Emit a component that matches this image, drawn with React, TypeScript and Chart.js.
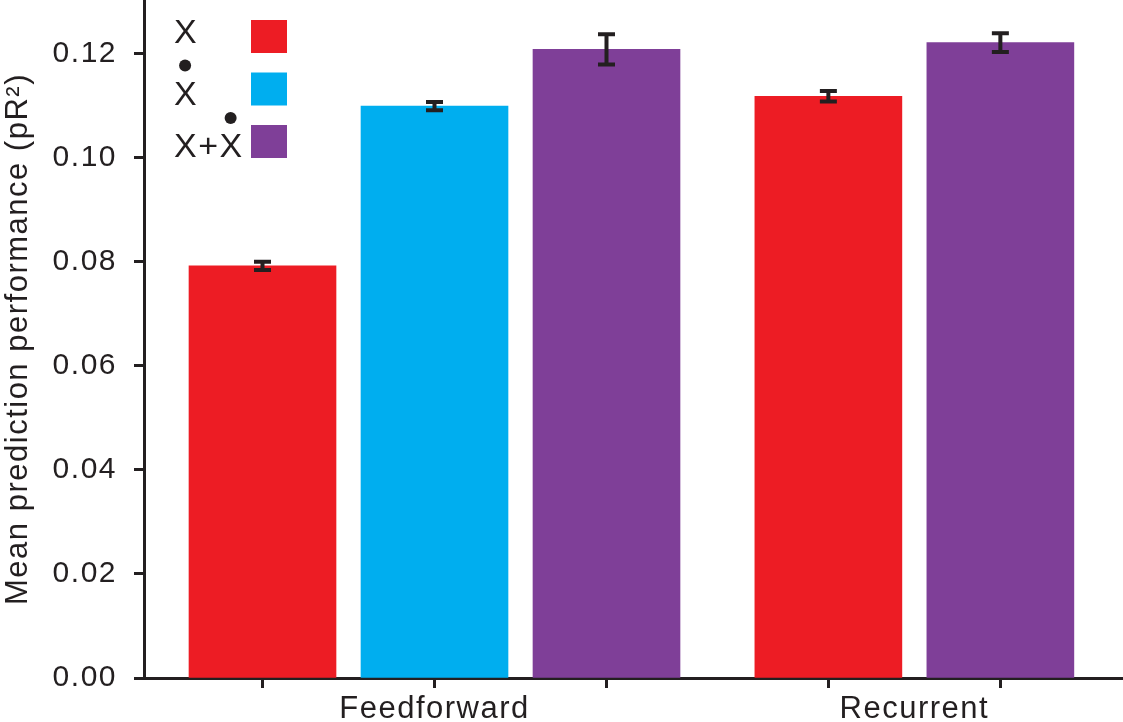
import { useEffect, useRef } from 'react';
import Chart from 'chart.js/auto';

// categories and series
const categories = ['Feedforward', 'Recurrent'];
const seriesLabels = ['X', 'Ẋ', 'X+Ẋ'];
const xValues = [0.0792, 0.1118];
const xDotValues = [0.1099, null];
const xPlusXDotValues = [0.1208, 0.1221];
const xErrors = [0.0008, 0.001];
const xDotErrors = [0.0008, null];
const xPlusXDotErrors = [0.0029, 0.0018];
const yTicks = [0, 0.02, 0.04, 0.06, 0.08, 0.1, 0.12];

const seriesValues = [xValues, xDotValues, xPlusXDotValues];
const seriesErrors = [xErrors, xDotErrors, xPlusXDotErrors];
const seriesColors = ['#ED1C24', '#00AEEF', '#7F3F98'];

const INK = '#231F20';
const FONT = "'Liberation Sans', Arial, sans-serif";
const GROUP_STEP = 3.29; // slots from first bar of one group to the next

// bars of a group sit side by side in slots, missing ones are skipped
const slots: (number | null)[][] = seriesValues.map(() => []);
const groupCenters: number[] = [];
categories.forEach((_, c) => {
  let k = 0;
  const used: number[] = [];
  seriesValues.forEach((vals, s) => {
    if (vals[c] == null) {
      slots[s][c] = null;
      return;
    }
    const slot = 1 + c * GROUP_STEP + k++;
    slots[s][c] = slot;
    used.push(slot);
  });
  groupCenters.push(used.reduce((a, b) => a + b, 0) / used.length);
});
const barSlots = slots.flat().filter((v): v is number => v != null);
const near = (a: number, b: number) => Math.abs(a - b) < 1e-6;

const errorBars = {
  id: 'errorBars',
  afterDatasetsDraw(chart: any) {
    const { ctx } = chart;
    const y = chart.scales.y;
    ctx.save();
    ctx.strokeStyle = INK;
    ctx.lineWidth = 4;
    chart.data.datasets.forEach((ds: any, i: number) => {
      chart.getDatasetMeta(i).data.forEach((bar: any, j: number) => {
        const p = ds.data[j];
        const top = y.getPixelForValue(p.y + p.err);
        const bot = y.getPixelForValue(p.y - p.err);
        ctx.beginPath();
        ctx.moveTo(bar.x, top);
        ctx.lineTo(bar.x, bot);
        ctx.moveTo(bar.x - 8.5, top);
        ctx.lineTo(bar.x + 8.5, top);
        ctx.moveTo(bar.x - 8.5, bot);
        ctx.lineTo(bar.x + 8.5, bot);
        ctx.stroke();
      });
    });
    ctx.restore();
  }
};

// legend: label text on the left, colour box on the right, dot drawn above Ẋ
const dotLegend = {
  id: 'dotLegend',
  afterDraw(chart: any) {
    const { ctx } = chart;
    ctx.save();
    ctx.font = `34px ${FONT}`;
    ctx.textAlign = 'left';
    ctx.textBaseline = 'alphabetic';
    chart.data.datasets.forEach((ds: any, i: number) => {
      const top = 20 + i * 52.5;
      ctx.fillStyle = ds.backgroundColor;
      ctx.fillRect(251, top, 36, 33);
      const label: string = ds.label;
      const baseline = top + (label.includes('Ẋ') ? 32 : 23);
      let x = 174;
      ctx.fillStyle = INK;
      for (const ch of label) {
        const glyph = ch === 'Ẋ' ? 'X' : ch;
        ctx.fillText(glyph, x, baseline);
        const w = ctx.measureText(glyph).width;
        if (ch === 'Ẋ') {
          ctx.beginPath();
          ctx.arc(x + w / 2 - 1, baseline - 39, 6, 0, Math.PI * 2);
          ctx.fill();
        }
        x += w;
      }
    });
    ctx.restore();
  }
};

// the figure's type is tracked a little wider than the font's default
const tracking = {
  id: 'tracking',
  beforeUpdate(chart: any) {
    chart.ctx.letterSpacing = '1.5px';
  },
  beforeDraw(chart: any) {
    chart.ctx.letterSpacing = '1.5px';
  }
};

export default function App() {
  const canvasRef = useRef<HTMLCanvasElement>(null);
  const chartRef = useRef<Chart | null>(null);

  useEffect(() => {
    document.body.style.margin = '0';
    if (!canvasRef.current) return;
    if (chartRef.current) chartRef.current.destroy();

    Chart.defaults.font.family = FONT;
    Chart.defaults.color = INK;

    const datasets = seriesLabels.map((label, s) => ({
      label,
      backgroundColor: seriesColors[s],
      borderWidth: 0,
      data: categories
        .map((_, c) => ({ x: slots[s][c], y: seriesValues[s][c], err: seriesErrors[s][c] }))
        .filter(p => p.y != null)
    }));

    chartRef.current = new Chart(canvasRef.current, {
      type: 'bar',
      data: { datasets } as any,
      plugins: [tracking, errorBars, dotLegend],
      options: {
        animation: false,
        responsive: true,
        maintainAspectRatio: false,
        layout: { padding: 0 },
        grouped: false,
        barThickness: 147,
        plugins: {
          legend: { display: false },
          tooltip: { enabled: false }
        },
        scales: {
          x: {
            type: 'linear',
            offset: false,
            min: 0.311,
            max: 6.003,
            afterBuildTicks: (scale: any) => {
              const vals = [...barSlots, ...groupCenters].sort((a, b) => a - b);
              scale.ticks = vals
                .filter((v, i) => i === 0 || !near(v, vals[i - 1]))
                .map(value => ({ value }));
            },
            afterFit: (scale: any) => {
              scale.height = 44;
              scale.paddingLeft = 0;
              scale.paddingRight = 0;
            },
            ticks: {
              autoSkip: false,
              maxRotation: 0,
              padding: 3,
              font: { size: 31 },
              color: INK,
              callback: (value: any) => {
                const c = groupCenters.findIndex(g => near(g, Number(value)));
                return c >= 0 ? categories[c] : '';
              }
            },
            grid: {
              offset: false,
              drawOnChartArea: false,
              drawTicks: true,
              tickLength: 10,
              tickWidth: 3,
              tickColor: (ctx: any) =>
                ctx.tick && !barSlots.some(b => near(b, ctx.tick.value)) ? 'transparent' : INK
            },
            border: { color: INK, width: 3 }
          },
          y: {
            min: 0,
            max: 0.1303,
            afterBuildTicks: (scale: any) => {
              scale.ticks = yTicks.map(value => ({ value }));
            },
            afterFit: (scale: any) => {
              scale.width = 144;
              scale.paddingTop = 0;
              scale.paddingBottom = 0;
            },
            ticks: {
              padding: 17,
              font: { size: 30 },
              color: INK,
              callback: (value: any) => Number(value).toFixed(2)
            },
            grid: {
              drawOnChartArea: false,
              tickLength: 10,
              tickWidth: 3,
              tickColor: INK
            },
            border: { color: INK, width: 3 },
            title: {
              display: true,
              text: 'Mean prediction performance (pR²)',
              font: { size: 31 },
              color: INK,
              padding: { top: 0, bottom: 0 }
            }
          }
        }
      } as any
    });

    return () => {
      if (chartRef.current) {
        chartRef.current.destroy();
        chartRef.current = null;
      }
    };
  }, []);

  return (
    <div style={{ position: 'relative', width: 1123, height: 722, background: '#fff' }}>
      <canvas ref={canvasRef} />
    </div>
  );
}
